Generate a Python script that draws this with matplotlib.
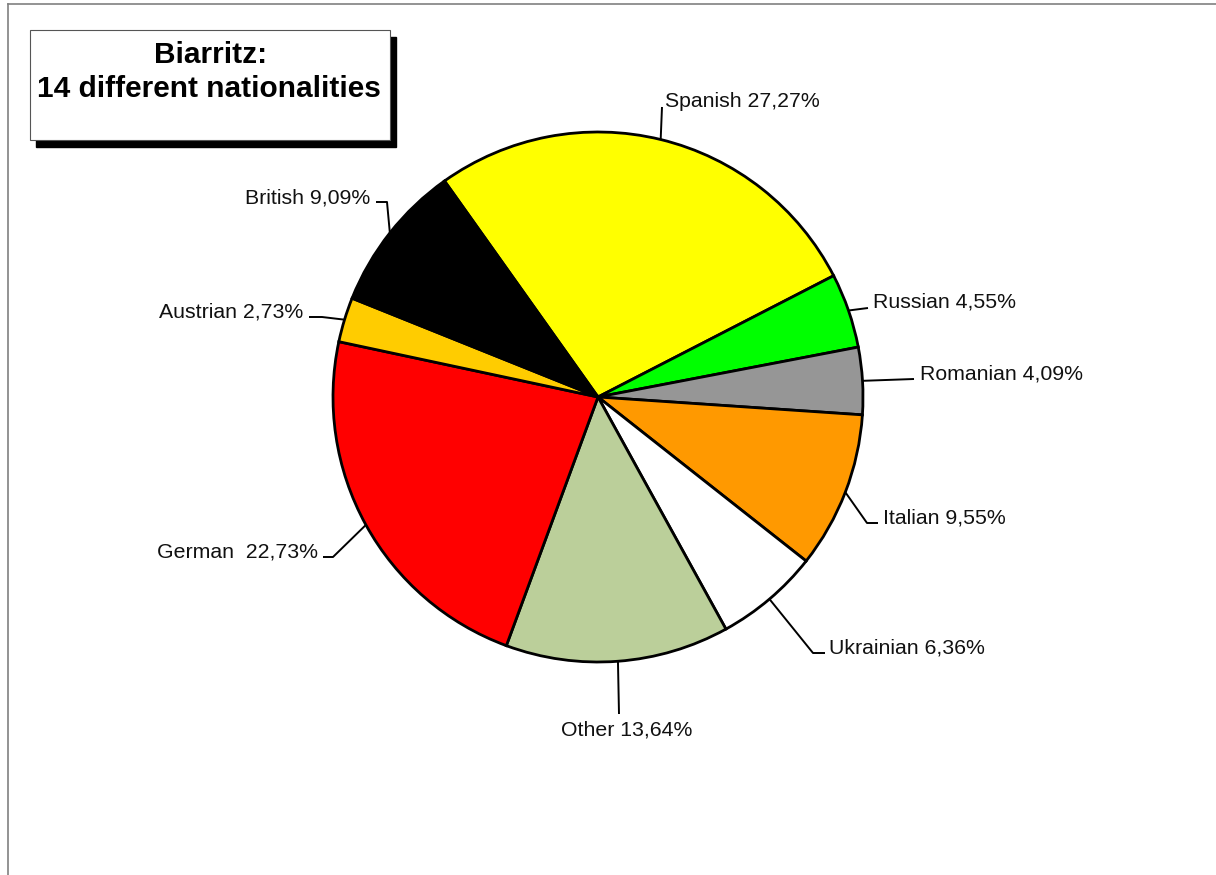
import matplotlib
matplotlib.use("Agg")
import matplotlib.pyplot as plt
from matplotlib.patches import Rectangle
import numpy as np

plt.rcParams['font.family'] = ['Liberation Sans', 'DejaVu Sans']

# data
nationalities = ['Spanish', 'Russian', 'Romanian', 'Italian', 'Ukrainian',
                 'Other', 'German', 'Austrian', 'British']
shares = [27.27, 4.55, 4.09, 9.55, 6.36, 13.64, 22.73, 2.73, 9.09]
labels = ['Spanish 27,27%', 'Russian 4,55%', 'Romanian 4,09%', 'Italian 9,55%',
          'Ukrainian 6,36%', 'Other 13,64%', 'German  22,73%', 'Austrian 2,73%',
          'British 9,09%']
colors = ['#FFFF00', '#00FF00', '#969696', '#FF9900', '#FFFFFF',
          '#BBCF9A', '#FF0000', '#FFCC00', '#000000']

W, H = 1216, 875

# label layout (pixel positions, y from top): text anchor, alignment, leader bends
label_layout = {
    'Spanish':   ((665, 107), 'left',   [(662, 107)]),
    'Russian':   ((873, 308), 'left',   [(868, 308)]),
    'Romanian':  ((920, 380), 'left',   [(914, 379)]),
    'Italian':   ((883, 524), 'left',   [(867, 523), (878, 523)]),
    'Ukrainian': ((829, 654), 'left',   [(813, 653), (825, 653)]),
    'Other':     ((627, 735), 'center', [(619, 714)]),
    'German':    ((318, 558), 'right',  [(333, 557), (323, 557)]),
    'Austrian':  ((303, 318), 'right',  [(322, 317), (309, 317)]),
    'British':   ((370, 203), 'right',  [(387, 202), (376, 202)]),
}


def px(x, y):
    return x, H - y


fig = plt.figure(figsize=(W / 100, H / 100), dpi=100)
ax = fig.add_axes([0, 0, 1, 1])

explode = [0.012 if n == 'Ukrainian' else 0 for n in nationalities]
wedges, _ = ax.pie(shares, colors=colors, startangle=125.4, counterclock=False,
                   center=px(598, 397), radius=265, explode=explode,
                   wedgeprops=dict(edgecolor='black', linewidth=2.0))

for w, name, lab in zip(wedges, nationalities, labels):
    ang = np.deg2rad((w.theta1 + w.theta2) / 2)
    cx, cy = w.center
    ex, ey = cx + w.r * np.cos(ang), cy + w.r * np.sin(ang)
    (tx, ty), ha, bends = label_layout[name]
    xs = [ex] + [px(*b)[0] for b in bends]
    ys = [ey] + [px(*b)[1] for b in bends]
    ax.plot(xs, ys, color='black', lw=1.4, solid_capstyle='butt')
    ax.text(*px(tx, ty), lab, ha=ha, va='baseline', fontsize=15.3, color='#111111')

# title box with shadow
ax.add_patch(Rectangle(px(36, 147), 360, 110, facecolor='black', edgecolor='black', zorder=3))
ax.add_patch(Rectangle(px(30, 140), 360, 110, facecolor='white', edgecolor='#555555',
                       lw=0.8, zorder=4))
ax.text(*px(211, 63), 'Biarritz:', ha='center', va='baseline', fontsize=21.5,
        fontweight='bold', zorder=5)
ax.text(*px(209, 97), '14 different nationalities', ha='center', va='baseline',
        fontsize=21.5, fontweight='bold', zorder=5)

# outer frame (top and left edges visible)
ax.plot([8, W], [H - 4, H - 4], color='#808080', lw=1.2, clip_on=False)
ax.plot([8, 8], [H - 4, 0], color='#808080', lw=1.2, clip_on=False)

ax.set_xlim(0, W)
ax.set_ylim(0, H)
ax.set_aspect('equal')
ax.axis('off')

fig.savefig('out.png', dpi=100)
